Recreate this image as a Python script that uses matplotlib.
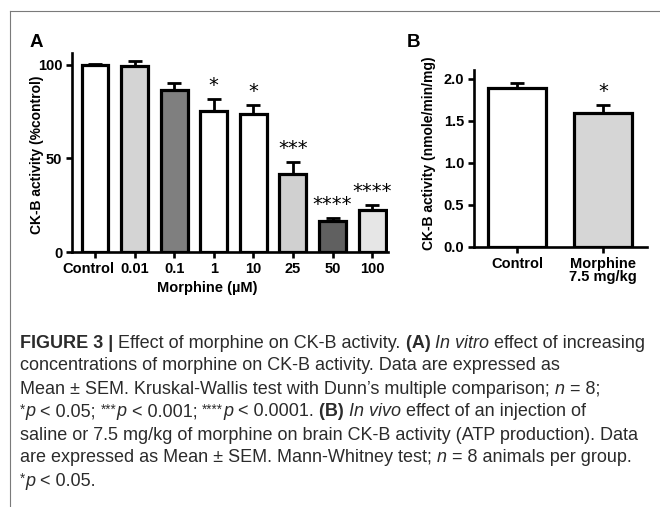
import numpy as np
import matplotlib.pyplot as plt
import matplotlib.transforms as mtransforms
from matplotlib.font_manager import FontProperties
from matplotlib.lines import Line2D

# ---- data ----
conc = ['Control', '0.01', '0.1', '1', '10', '25', '50', '100']
activity_a = [100, 99.3, 86.8, 75.6, 73.8, 41.9, 16.6, 22.5]
sem_a = [0.7, 3.0, 3.6, 6.2, 4.6, 6.1, 1.4, 2.8]
stars_a = ['', '', '', '*', '*', '***', '****', '****']
colors_a = ['white', '#d4d4d4', '#7f7f7f', 'white', 'white', '#d0d0d0', '#606060', '#e6e6e6']

groups_b = ['Control', 'Morphine\n7.5 mg/kg']
activity_b = [1.89, 1.60]
sem_b = [0.067, 0.09]
stars_b = ['', '*']
colors_b = ['white', '#d6d6d6']

W, H = 660, 507
fig = plt.figure(figsize=(W / 100, H / 100), dpi=100)
plt.rcParams['font.family'] = ['Liberation Sans', 'DejaVu Sans']


def box(left, top, right, bottom):
    return [left / W, 1 - bottom / H, (right - left) / W, (bottom - top) / H]


def style_axes(ax):
    for s in ['top', 'right']:
        ax.spines[s].set_visible(False)
    for s in ['left', 'bottom']:
        ax.spines[s].set_linewidth(1.9)
    ax.tick_params(direction='out', length=4, width=1.9, labelsize=10.5, pad=3)
    for lab in ax.get_xticklabels() + ax.get_yticklabels():
        lab.set_fontweight('bold')


def draw_bars(ax, vals, errs, colors, stars, width):
    x = np.arange(len(vals))
    ax.errorbar(x, vals, yerr=[np.zeros(len(errs)), errs], fmt='none', ecolor='black',
                elinewidth=2, capsize=5, capthick=2, zorder=1)
    ax.bar(x, vals, width=width, color=colors, edgecolor='black', linewidth=2.3, zorder=2)
    for xi, v, e, s in zip(x, vals, errs, stars):
        if s:
            ax.annotate(s, xy=(xi, v + e), xytext=(0, 3), textcoords='offset points',
                        ha='center', va='bottom', fontsize=14, family='DejaVu Sans')
    return x


# ---- panel A ----
axA = fig.add_axes(box(72, 53, 388, 252))
xa = draw_bars(axA, activity_a, sem_a, colors_a, stars_a, 0.68)
axA.set_xlim(-0.58, 7.4)
axA.set_ylim(0, 106.4)
axA.set_yticks([0, 50, 100])
axA.set_xticks(xa)
axA.set_xticklabels(conc)
axA.set_ylabel('CK-B activity (%control)', fontsize=10, fontweight='bold')
axA.set_xlabel('Morphine (µM)', fontsize=10.5, fontweight='bold')
axA.xaxis.set_label_coords((207 - 72) / 316, -0.145)
axA.yaxis.set_label_coords(-0.088, 0.49)
style_axes(axA)
# the "Control" label sits a little left of its tick in the original
lab0 = axA.get_xticklabels()[0]
lab0.set_transform(lab0.get_transform() +
                   mtransforms.ScaledTranslation(-7 / 100, 0, fig.dpi_scale_trans))

# ---- panel B ----
axB = fig.add_axes(box(474, 70, 647, 247))
xb = draw_bars(axB, activity_b, sem_b, colors_b, stars_b, 0.67)
axB.set_xlim(-0.5, 1.51)
axB.set_ylim(0, 2.107)
axB.set_yticks([0, 0.5, 1.0, 1.5, 2.0])
axB.set_yticklabels(['0.0', '0.5', '1.0', '1.5', '2.0'])
axB.set_xticks(xb)
axB.set_xticklabels(groups_b, linespacing=0.95)
axB.set_ylabel('CK-B activity (nmole/min/mg)', fontsize=10, fontweight='bold')
axB.yaxis.set_label_coords(-0.22, 0.53)
style_axes(axB)

# panel letters
fig.text(30 / W, 1 - 47 / H, 'A', fontsize=13.5, fontweight='bold', va='baseline')
fig.text(407 / W, 1 - 47 / H, 'B', fontsize=13.5, fontweight='bold', va='baseline')

# frame
fig.add_artist(Line2D([10 / W, 1], [1 - 11 / H, 1 - 11 / H], color='#7a7a7a', lw=0.8))
fig.add_artist(Line2D([10 / W, 10 / W], [0, 1 - 11 / H], color='#7a7a7a', lw=0.8))

# ---- caption ----
N, B_, I_, S_ = 'n', 'b', 'i', 's'
caption = [
    [('FIGURE 3 | ', B_), ('Effect of morphine on CK-B activity. ', N), ('(A) ', B_),
     ('In vitro', I_), (' effect of increasing', N)],
    [('concentrations of morphine on CK-B activity. Data are expressed as', N)],
    [('Mean \u00b1 SEM. Kruskal-Wallis test with Dunn\u2019s multiple comparison; ', N),
     ('n', I_), (' = 8;', N)],
    [('*', S_), ('p', I_), (' < 0.05; ', N), ('***', S_), ('p', I_), (' < 0.001; ', N),
     ('****', S_), ('p', I_), (' < 0.0001. ', N), ('(B) ', B_), ('In vivo', I_),
     (' effect of an injection of', N)],
    [('saline or 7.5 mg/kg of morphine on brain CK-B activity (ATP production). Data', N)],
    [('are expressed as Mean \u00b1 SEM. Mann-Whitney test; ', N), ('n', I_),
     (' = 8 animals per group.', N)],
    [('*', S_), ('p', I_), (' < 0.05.', N)],
]

cap_family = ['Liberation Sans']
cap_size = 13.0
cap_color = '#2b2b2b'
renderer = fig.canvas.get_renderer()


def props(kind):
    if kind == B_:
        return FontProperties(family=cap_family, weight='bold', size=cap_size)
    if kind == I_:
        return FontProperties(family=cap_family, style='italic', size=cap_size)
    if kind == S_:
        return FontProperties(family=cap_family, size=cap_size * 0.75)
    return FontProperties(family=cap_family, size=cap_size)


def advance(text, fp):
    w1 = renderer.get_text_width_height_descent(text + 'x', fp, False)[0]
    w0 = renderer.get_text_width_height_descent('x', fp, False)[0]
    return w1 - w0


baseline0 = 347.5
for i, line in enumerate(caption):
    x = 20.0
    base = baseline0 + i * 23.0
    for text, kind in line:
        fp = props(kind)
        rise = 2.5 if kind == S_ else 0
        fig.text(x / W, 1 - (base - rise) / H, text, fontproperties=fp,
                 color=cap_color, va='baseline', ha='left')
        x += advance(text, fp)

fig.savefig('out.png', dpi=100)
